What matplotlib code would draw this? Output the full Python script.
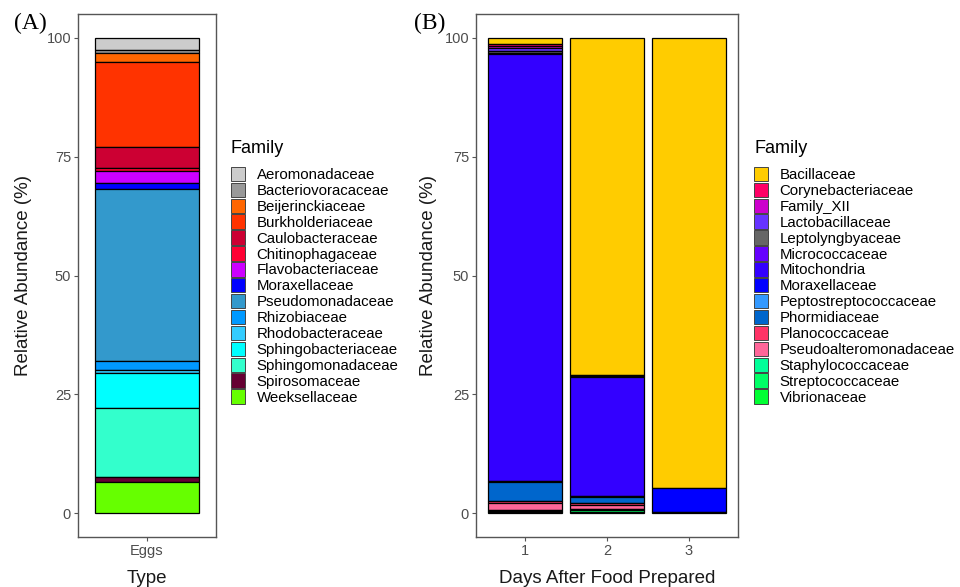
import matplotlib
matplotlib.use("Agg")
import matplotlib.pyplot as plt
from matplotlib.patches import Patch
import numpy as np

plt.rcParams["font.family"] = ["Liberation Sans", "DejaVu Sans"]

# ---- Panel A data (Eggs) ----
families_a = [
    "Aeromonadaceae", "Bacteriovoracaceae", "Beijerinckiaceae", "Burkholderiaceae",
    "Caulobacteraceae", "Chitinophagaceae", "Flavobacteriaceae", "Moraxellaceae",
    "Pseudomonadaceae", "Rhizobiaceae", "Rhodobacteraceae", "Sphingobacteriaceae",
    "Sphingomonadaceae", "Spirosomaceae", "Weeksellaceae",
]
colors_a = [
    "#CCCCCC", "#999999", "#FF6600", "#FF3300", "#CC0033", "#FF0033", "#CC00FF",
    "#0000FF", "#3399CC", "#0099FF", "#33CCFF", "#00FFFF", "#33FFCC", "#660033",
    "#66FF00",
]
eggs = [2.5, 0.7, 1.8, 17.9, 4.5, 0.7, 2.5, 1.3, 36.0, 2.0, 0.7, 7.2, 14.6, 1.1, 6.5]
types_a = ["Eggs"]

# ---- Panel B data (days 1, 2, 3) ----
families_b = [
    "Bacillaceae", "Corynebacteriaceae", "Family_XII", "Lactobacillaceae",
    "Leptolyngbyaceae", "Micrococcaceae", "Mitochondria", "Moraxellaceae",
    "Peptostreptococcaceae", "Phormidiaceae", "Planococcaceae",
    "Pseudoalteromonadaceae", "Staphylococcaceae", "Streptococcaceae", "Vibrionaceae",
]
colors_b = [
    "#FFCC00", "#FF0066", "#CC00CC", "#6633FF", "#666666", "#6600FF", "#3300FF",
    "#0000FF", "#3399FF", "#0066CC", "#FF3366", "#FF6699", "#00FF99", "#00FF66",
    "#00FF33",
]
days = ["1", "2", "3"]
day1 = [1.3, 0.5, 0.4, 0.6, 0.3, 0.3, 89.9, 0.0, 0.2, 4.0, 0.4, 1.4, 0.3, 0.2, 0.2]
day2 = [71.0, 0.1, 0.0, 0.1, 0.0, 0.2, 25.0, 0.0, 0.2, 1.3, 0.3, 0.9, 0.3, 0.3, 0.3]
day3 = [94.7, 0.0, 0.0, 0.0, 0.0, 0.0, 0.0, 5.0, 0.0, 0.0, 0.0, 0.0, 0.0, 0.0, 0.3]

W, H = 960, 587
fig = plt.figure(figsize=(W / 100, H / 100), dpi=100)


def px_axes(x0, y0, x1, y1):
    return fig.add_axes([x0 / W, (H - y1) / H, (x1 - x0) / W, (y1 - y0) / H])


def stacked(ax, cats, values_by_cat, colors):
    x = np.arange(1, len(cats) + 1)
    for i, vals in enumerate(values_by_cat):
        top = 100.0
        for v, c in zip(vals, colors):
            if v <= 0:
                continue
            ax.bar(x[i], v, bottom=top - v, width=0.9, color=c,
                   edgecolor="black", linewidth=0.9)
            top -= v
    ax.set_xlim(0.4, len(cats) + 0.6)
    ax.set_ylim(-5, 105)
    ax.set_xticks(x)
    ax.set_xticklabels(cats)
    ax.set_yticks([0, 25, 50, 75, 100])
    for s in ax.spines.values():
        s.set_color("#555555")
        s.set_linewidth(1.0)
    ax.tick_params(colors="#555555", labelcolor="#4D4D4D", labelsize=10.5,
                   length=3, width=0.8, pad=2)
    ax.set_ylabel("Relative Abundance (%)", fontsize=13.5, color="#1A1A1A")


def family_legend(ax, families, colors, x, y):
    handles = [Patch(facecolor=c, edgecolor="#444444", linewidth=0.7) for c in colors]
    leg = ax.legend(handles, families, title="Family", loc="upper left",
                    bbox_to_anchor=(x / W, 1 - y / H),
                    bbox_transform=fig.transFigure, frameon=False,
                    fontsize=10.8, title_fontsize=13, handlelength=0.95,
                    handleheight=1.1, labelspacing=0.04, handletextpad=0.75,
                    borderaxespad=0, borderpad=0)
    leg._legend_box.align = "left"
    leg._legend_box.sep = 7
    return leg


axA = px_axes(78, 14, 216, 537)
stacked(axA, types_a, [eggs], colors_a)
axA.set_xlabel("Type", fontsize=13.5, color="#1A1A1A", labelpad=9)
axA.yaxis.set_label_coords(-0.42 + 12 / 138, 0.5)
family_legend(axA, families_a, colors_a, 231, 140)

axB = px_axes(476, 14, 738, 537)
stacked(axB, days, [day1, day2, day3], colors_b)
axB.set_xlabel("Days After Food Prepared", fontsize=13.5, color="#1A1A1A", labelpad=9)
axB.yaxis.set_label_coords(-0.22 + 19 / 262, 0.5)
family_legend(axB, families_b, colors_b, 754, 140)

fig.text(14 / W, 1 - 23 / H, "(A)", family="Liberation Serif", fontsize=17,
         va="center", ha="left")
fig.text(414 / W, 1 - 23 / H, "(B)", family="Liberation Serif", fontsize=17,
         va="center", ha="left")

fig.savefig("out.png", dpi=100)
